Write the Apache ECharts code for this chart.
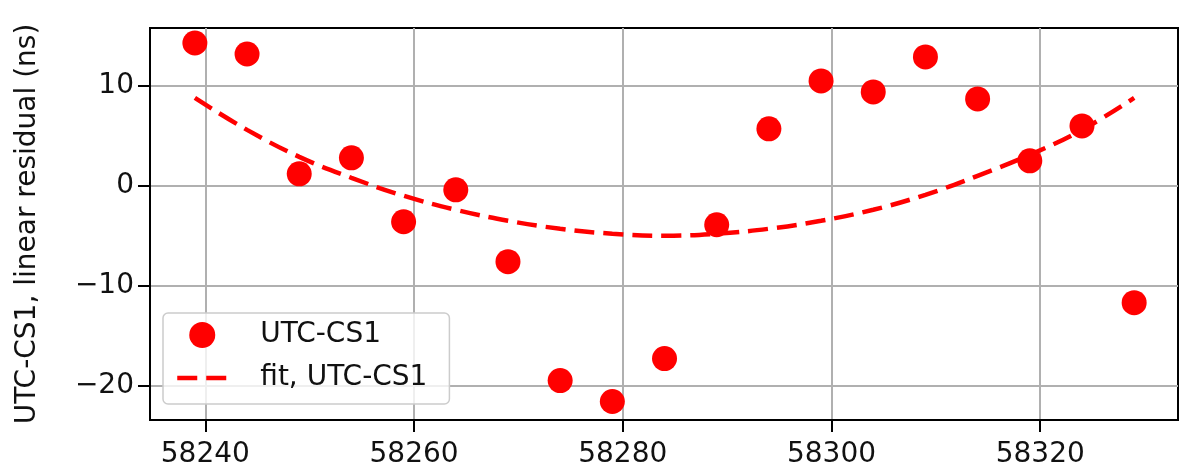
<!DOCTYPE html>
<html>
<head>
<meta charset="utf-8">
<script src="https://cdn.jsdelivr.net/npm/echarts@6/dist/echarts.min.js"></script>
<style>
  html, body { margin: 0; padding: 0; background: #fff; }
  #chart { width: 1180px; height: 470px; }
</style>
</head>
<body>
<div id="chart"></div>
<script>
// Observation epochs (MJD)
const mjd = [58239, 58244, 58249, 58254, 58259, 58264, 58269, 58274, 58279, 58284,
             58289, 58294, 58299, 58304, 58309, 58314, 58319, 58324, 58329];
// UTC-CS1 residual after removing a linear trend (ns)
const residual = [14.3, 13.2, 1.2, 2.8, -3.6, -0.4, -7.6, -19.5, -21.6, -17.3,
                  -3.9, 5.7, 10.5, 9.4, 12.9, 8.7, 2.5, 6.0, -11.7];
// Fitted curve evaluated at the same epochs (ns)
const fitResidual = [8.8, 5.6, 2.9, 0.8, -1.0, -2.4, -3.5, -4.3, -4.8, -5.0,
                     -4.8, -4.3, -3.5, -2.4, -0.9, 1.0, 3.1, 5.6, 8.8];
// Axis ticks
const xTicks = [58240, 58260, 58280, 58300, 58320];
const yTicks = [-20, -10, 0, 10];

const seriesName = 'UTC-CS1';
const fitName = 'fit, UTC-CS1';
const yTitle = 'UTC-CS1, linear residual (ns)';

const FONT = 'DejaVu Sans';
const RED = '#ff0000';
const GRID = '#b0b0b0';
const FIT_WIDTH = 4.5;
const FIT_DASH = [20, 9];

const pairs = (xs, ys) => xs.map((x, i) => [x, ys[i]]);
const fmt = v => (v < 0 ? '\u2212' + Math.abs(v) : String(v));

const chart = echarts.init(document.getElementById('chart'), null, { renderer: 'canvas' });

chart.setOption({
  animation: false,
  backgroundColor: '#fff',
  textStyle: { fontFamily: FONT },
  grid: {
    left: 150, top: 28, right: 2, bottom: 50,
    show: true, borderColor: '#000', borderWidth: 2, backgroundColor: 'transparent'
  },
  xAxis: {
    type: 'value',
    min: 58234.7, max: 58333.2,
    axisLine: { show: true, onZero: false, lineStyle: { color: '#000', width: 2 } },
    axisTick: { show: true, customValues: xTicks, length: 12, lineStyle: { color: '#000', width: 2 } },
    axisLabel: { customValues: xTicks, formatter: v => String(v), fontFamily: FONT, fontSize: 28, color: '#111', margin: 21 },
    splitLine: { show: true, lineStyle: { color: GRID, width: 2 } }
  },
  yAxis: {
    type: 'value',
    min: -23.45, max: 15.8,
    name: yTitle,
    nameLocation: 'middle',
    nameGap: 108,
    nameTextStyle: { fontFamily: FONT, fontSize: 28, color: '#111' },
    axisLine: { show: true, onZero: false, lineStyle: { color: '#000', width: 2 } },
    axisTick: { show: true, customValues: yTicks, length: 12, lineStyle: { color: '#000', width: 2 } },
    axisLabel: { customValues: yTicks, formatter: fmt, fontFamily: FONT, fontSize: 28, color: '#111', margin: 16 },
    splitLine: { show: true, lineStyle: { color: GRID, width: 2 } }
  },
  legend: {
    left: 163, top: 313,
    orient: 'vertical',
    itemWidth: 50, itemHeight: 26, itemGap: 15,
    padding: [8, 22, 12, 12],
    backgroundColor: 'rgba(255,255,255,0.8)',
    borderColor: '#cccccc', borderWidth: 1.5, borderRadius: 5,
    textStyle: { fontFamily: FONT, fontSize: 28, color: '#111', padding: [0, 0, 0, 28] },
    data: [
      { name: seriesName, icon: 'circle' },
      {
        name: fitName,
        itemStyle: { color: 'rgba(0,0,0,0)', borderWidth: 0, opacity: 0 },
        lineStyle: { color: RED, width: FIT_WIDTH, type: FIT_DASH }
      }
    ]
  },
  series: [
    {
      name: fitName,
      type: 'line',
      data: pairs(mjd, fitResidual),
      smooth: 0.4,
      showSymbol: false,
      symbol: 'none',
      z: 2,
      lineStyle: { color: RED, width: FIT_WIDTH, type: FIT_DASH },
      itemStyle: { color: RED }
    },
    {
      name: seriesName,
      type: 'scatter',
      data: pairs(mjd, residual),
      symbol: 'circle',
      symbolSize: 25,
      z: 3,
      itemStyle: { color: RED, opacity: 1 }
    }
  ]
});
</script>
</body>
</html>
